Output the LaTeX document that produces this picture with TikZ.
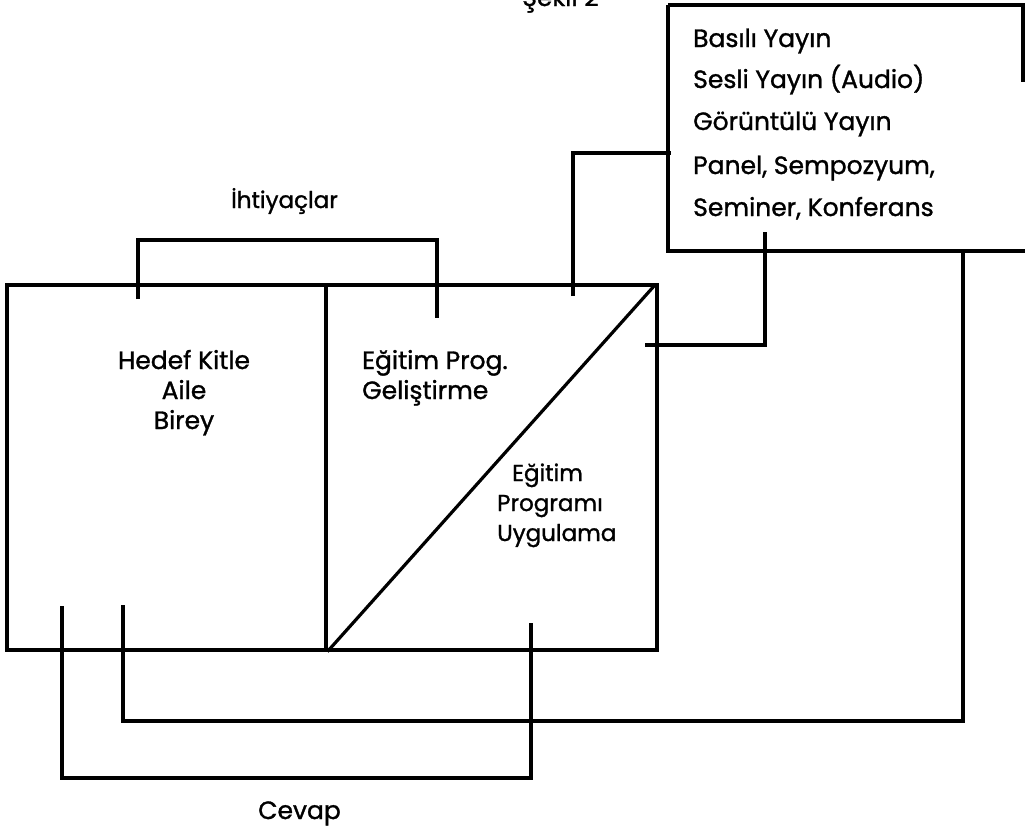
\documentclass[tikz,border=0pt]{standalone}
\usepackage{fontspec}
\setmainfont{Poppins}[FakeBold=1.2]
\begin{document}
\begin{tikzpicture}[x=1pt,y=-1pt,
  wire/.style={line width=3.2pt},
  boxnode/.style={draw, line width=3.2pt, inner sep=0pt, minimum height=365pt},
  lbl/.style={font=\fontsize{25}{30}\selectfont, inner sep=0pt, anchor=base west},
  lblc/.style={font=\fontsize{25}{30}\selectfont, inner sep=0pt, anchor=base}]
\useasboundingbox (0,0) rectangle (1025,830);
\fill[white] (0,0) rectangle (1025,830);

% main boxes
\node[boxnode, minimum width=319pt] (hk) at (166.5,467.5) {};
\node[boxnode, minimum width=331pt] (ep) at (491.5,467.5) {};
\draw[wire] ([xshift=3pt]ep.south west) -- ([xshift=-4pt,yshift=-2pt]ep.north east);

% media box (partly cut off at the right)
\coordinate (mbtl) at (668,5);
\coordinate (mbbl) at (668,251);
\coordinate (mbbr) at (1025,251);
\coordinate (mbtr) at (1023,5);
\coordinate (mbrr) at (1023,82);
\draw[wire] (mbtl) -- (mbbl) -- (mbbr);
\draw[wire] (mbtl) -- (mbtr) -- (mbrr);

% texts
\node[lbl] (sekil) at (522,6) {Şekil 2};
\node[lbl] (m1) at (693,47) {Basılı Yayın};
\node[lbl] (m2) at (693,88) {Sesli Yayın (Audio)};
\node[lbl] (m3) at (693,130) {Görüntülü Yayın};
\node[lbl] (m4) at (693,174) {Panel, Sempozyum,};
\node[lbl] (m5) at (693,216) {Seminer, Konferans};
\node[lbl, font=\fontsize{23}{27}\selectfont] (iht) at (231,208) {İhtiyaçlar};
\node[lblc] (h1) at (184,369) {Hedef Kitle};
\node[lblc] (h2) at (184,399) {Aile};
\node[lblc] (h3) at (184,429) {Birey};
\node[lbl] (e1) at (362,369) {Eğitim Prog.};
\node[lbl] (e2) at (362,399) {Geliştirme};
\node[lbl, font=\fontsize{23}{27}\selectfont] (u1) at (512,481) {Eğitim};
\node[lbl, font=\fontsize{23}{27}\selectfont] (u2) at (497,511) {Programı};
\node[lbl, font=\fontsize{23}{27}\selectfont] (u3) at (497,541) {Uygulama};
\node[lbl] (cev) at (258,819) {Cevap};

% connector end points
\coordinate (a1) at (138,299);
\coordinate (a2) at (138,240);
\coordinate (a3) at (437,240);
\coordinate (a4) at (437,318);
\coordinate (b1) at (573,296);
\coordinate (b2) at (573,153);
\coordinate (b3) at (671,153);
\coordinate (c1) at (765,232);
\coordinate (c2) at (765,345);
\coordinate (c3) at (645,345);
\coordinate (d1) at (963,251);
\coordinate (d2) at (963,721);
\coordinate (d3) at (123,721);
\coordinate (d4) at (123,605);
\coordinate (f1) at (62,606);
\coordinate (f2) at (62,778);
\coordinate (f3) at (531,778);
\coordinate (f4) at (531,623);

\draw[wire] (a1) -- (a2) -- (a3) -- (a4);
\draw[wire] (b1) -- (b2) -- (b3);
\draw[wire] (c1) -- (c2) -- (c3);
\draw[wire] (d1) -- (d2) -- (d3) -- (d4);
\draw[wire] (f1) -- (f2) -- (f3) -- (f4);
\end{tikzpicture}
\end{document}
